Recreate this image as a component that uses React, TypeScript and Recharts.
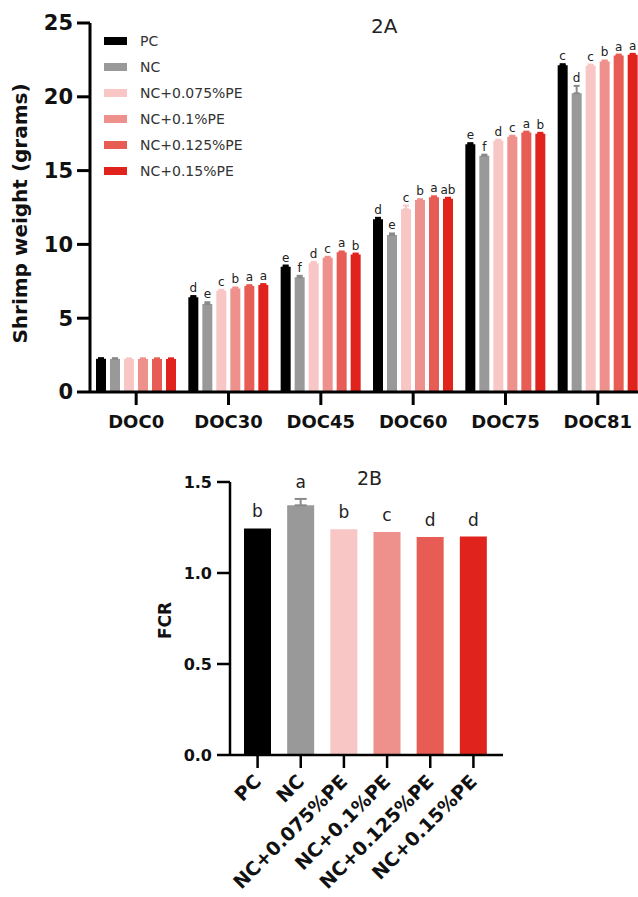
import React from "react";
import {
  BarChart,
  Bar,
  XAxis,
  YAxis,
  ErrorBar,
  LabelList,
  Legend,
  Cell,
} from "recharts";

const FONT = '"DejaVu Sans", Verdana, sans-serif';

// treatment groups shared by both panels
const GROUPS = ["PC", "NC", "NC+0.075%PE", "NC+0.1%PE", "NC+0.125%PE", "NC+0.15%PE"];
const GROUP_COLORS = ["#000000", "#999999", "#f7c6c5", "#ee918c", "#e75c54", "#e0241d"];

// 2A: shrimp weight by day of culture
const DAYS = ["DOC0", "DOC30", "DOC45", "DOC60", "DOC75", "DOC81"];

const weightPC = [2.25, 6.42, 8.49, 11.7, 16.78, 22.13];
const weightNC = [2.25, 5.96, 7.77, 10.64, 16.0, 20.24];
const weight075 = [2.24, 6.86, 8.72, 12.38, 17.03, 22.1];
const weight01 = [2.24, 7.02, 9.1, 13.0, 17.3, 22.4];
const weight0125 = [2.24, 7.18, 9.46, 13.2, 17.58, 22.8];
const weight015 = [2.24, 7.25, 9.32, 13.1, 17.5, 22.85];

const errPC = [0.04, 0.08, 0.08, 0.1, 0.08, 0.08];
const errNC = [0.04, 0.12, 0.1, 0.1, 0.08, 0.5];
const err075 = [0.04, 0.06, 0.1, 0.25, 0.06, 0.08];
const err01 = [0.04, 0.06, 0.06, 0.06, 0.06, 0.06];
const err0125 = [0.04, 0.06, 0.06, 0.06, 0.06, 0.06];
const err015 = [0.04, 0.06, 0.06, 0.06, 0.06, 0.06];

const lettersPC = ["", "d", "e", "d", "e", "c"];
const lettersNC = ["", "e", "f", "e", "f", "d"];
const letters075 = ["", "c", "d", "c", "d", "c"];
const letters01 = ["", "b", "c", "b", "c", "b"];
const letters0125 = ["", "a", "a", "a", "a", "a"];
const letters015 = ["", "a", "b", "ab", "b", "a"];

const WEIGHT_TICKS = [0, 5, 10, 15, 20, 25];

// 2B: feed conversion ratio
const fcrValues = [1.245, 1.372, 1.24, 1.225, 1.198, 1.2];
const fcrErr = [0, 0.035, 0, 0, 0, 0];
const fcrLetters = ["b", "a", "b", "c", "d", "d"];
const FCR_TICKS = [0, 0.5, 1.0, 1.5];

const weightSeries = [weightPC, weightNC, weight075, weight01, weight0125, weight015];
const errSeries = [errPC, errNC, err075, err01, err0125, err015];
const letterSeries = [lettersPC, lettersNC, letters075, letters01, letters0125, letters015];

const weightData = DAYS.map((day, i) => {
  const row: Record<string, any> = { day };
  GROUPS.forEach((_, s) => {
    row[`s${s}`] = weightSeries[s][i];
    row[`s${s}_err`] = [0, errSeries[s][i]];
    row[`s${s}_lbl`] = letterSeries[s][i];
  });
  return row;
});

const fcrData = GROUPS.map((name, i) => ({
  name,
  fcr: fcrValues[i],
  err: fcrErr[i] ? [0, fcrErr[i]] : null,
  lbl: fcrLetters[i],
}));

// chart geometry
const A_W = 660;
const A_H = 444;
const A_TOP = 23;
const A_XH = 52;
const A_PLOT_H = A_H - A_TOP - A_XH;

const B_W = 520;
const B_H = 455;
const B_TOP = 42;
const B_XH = 140;
const B_PLOT_H = B_H - B_TOP - B_XH;

const letterA = (s: number) => (props: any) => {
  const vb = props.viewBox || props;
  const { x, y, width } = vb;
  const value = props.value;
  if (!value || x == null) return null;
  const errPx = (errSeries[s][props.index] || 0) * (A_PLOT_H / 25);
  return (
    <text
      x={x + width / 2}
      y={y - errPx - 4}
      textAnchor="middle"
      fontFamily={FONT}
      fontSize={12}
      fill="#222"
    >
      {value}
    </text>
  );
};

const letterB = (props: any) => {
  const vb = props.viewBox || props;
  const { x, y, width } = vb;
  if (!props.value || x == null) return null;
  const errPx = (fcrErr[props.index] || 0) * (B_PLOT_H / 1.5);
  return (
    <text
      x={x + width / 2}
      y={y - errPx - 11}
      textAnchor="middle"
      fontFamily={FONT}
      fontSize={17}
      fill="#222"
    >
      {props.value}
    </text>
  );
};

const yTitle = (text: string, dx: number, dy: number, size: number, fallback: { y: number; h: number }) =>
  (props: any) => {
    const vb = props.viewBox || {};
    const cx = (vb.x ?? 0) + dx;
    const cy = (vb.y ?? fallback.y) + (vb.height ?? fallback.h) / 2 + dy;
    return (
      <text
        x={cx}
        y={cy}
        transform={`rotate(-90, ${cx}, ${cy})`}
        textAnchor="middle"
        dominantBaseline="central"
        fontFamily={FONT}
        fontWeight="bold"
        fontSize={size}
        fill="#111"
      >
        {text}
      </text>
    );
  };

// keep the legend in treatment order
const renderLegend = (props: any) => {
  const items = [...(props.payload || [])].sort(
    (a: any, b: any) => GROUPS.indexOf(a.value) - GROUPS.indexOf(b.value)
  );
  return (
    <div style={{ fontFamily: FONT, fontSize: 14, color: "#333" }}>
      {items.map((it: any) => (
        <div key={it.value} style={{ display: "flex", alignItems: "center", height: 26 }}>
          <span
            style={{ display: "inline-block", width: 23, height: 8, background: it.color, marginRight: 13 }}
          />
          <span>{it.value}</span>
        </div>
      ))}
    </div>
  );
};

const RotatedTick = (props: any) => {
  const { x, y, payload } = props;
  return (
    <text
      x={x}
      y={y}
      transform={`rotate(-45, ${x}, ${y})`}
      textAnchor="end"
      dy="0.35em"
      fontFamily={FONT}
      fontWeight="bold"
      fontSize={19}
      fill="#111"
    >
      {payload.value}
    </text>
  );
};

const titleStyle: React.CSSProperties = {
  position: "absolute",
  fontFamily: FONT,
  fontSize: 20,
  color: "#222",
  lineHeight: 1,
};

export default function App() {
  return (
    <div
      style={{
        position: "absolute",
        left: 0,
        top: 0,
        width: 638,
        height: 897,
        overflow: "hidden",
        background: "#fff",
      }}
    >
      <div style={{ position: "absolute", left: 0, top: 0 }}>
        <BarChart
          width={A_W}
          height={A_H}
          data={weightData}
          margin={{ top: A_TOP, right: 16, bottom: 0, left: 0 }}
          barSize={10}
          barGap={4}
        >
          <XAxis
            dataKey="day"
            height={A_XH}
            axisLine={{ stroke: "#000", strokeWidth: 3 }}
            tickLine={{ stroke: "#000", strokeWidth: 3 }}
            tickSize={13}
            tickMargin={10}
            tick={{ fontFamily: FONT, fontWeight: "bold", fontSize: 18, fill: "#111" }}
          />
          <YAxis
            width={90}
            domain={[0, 25]}
            ticks={WEIGHT_TICKS}
            interval={0}
            axisLine={{ stroke: "#000", strokeWidth: 3 }}
            tickLine={{ stroke: "#000", strokeWidth: 3 }}
            tickSize={13}
            tickMargin={4}
            tick={{ fontFamily: FONT, fontWeight: "bold", fontSize: 21, fill: "#111" }}
            label={{ content: yTitle("Shrimp weight (grams)", 20, 6, 20, { y: A_TOP, h: A_PLOT_H }) }}
          />
          <Legend
            layout="vertical"
            align="center"
            verticalAlign="middle"
            wrapperStyle={{ left: 104, top: 28, width: 220 }}
            content={renderLegend}
          />
          {GROUPS.map((g, s) => (
            <Bar
              key={g}
              dataKey={`s${s}`}
              name={g}
              fill={GROUP_COLORS[s]}
              isAnimationActive={false}
            >
              <ErrorBar
                dataKey={`s${s}_err`}
                width={3}
                strokeWidth={2}
                stroke={s === 1 ? "#8a8a8a" : GROUP_COLORS[s]}
              />
              <LabelList dataKey={`s${s}_lbl`} content={letterA(s)} />
            </Bar>
          ))}
        </BarChart>
        <div style={{ ...titleStyle, left: 371, top: 16 }}>2A</div>
      </div>

      <div style={{ position: "absolute", left: 0, top: 440 }}>
        <BarChart
          width={B_W}
          height={B_H}
          data={fcrData}
          margin={{ top: B_TOP, right: 17, bottom: 0, left: 0 }}
          barSize={27}
        >
          <XAxis
            dataKey="name"
            height={B_XH}
            interval={0}
            padding={{ left: 6, right: 8 }}
            axisLine={{ stroke: "#000", strokeWidth: 2.5 }}
            tickLine={{ stroke: "#000", strokeWidth: 2.5 }}
            tickSize={13}
            tickMargin={10}
            tick={<RotatedTick />}
          />
          <YAxis
            width={230}
            domain={[0, 1.5]}
            ticks={FCR_TICKS}
            interval={0}
            tickFormatter={(v: number) => v.toFixed(1)}
            axisLine={{ stroke: "#000", strokeWidth: 2.5 }}
            tickLine={{ stroke: "#000", strokeWidth: 2.5 }}
            tickSize={13}
            tickMargin={5}
            tick={{ fontFamily: FONT, fontWeight: "bold", fontSize: 16, fill: "#111" }}
            label={{ content: yTitle("FCR", 165, 2, 17, { y: B_TOP, h: B_PLOT_H }) }}
          />
          <Bar dataKey="fcr" isAnimationActive={false}>
            {fcrData.map((d, i) => (
              <Cell key={d.name} fill={GROUP_COLORS[i]} />
            ))}
            <ErrorBar dataKey="err" width={6} strokeWidth={2} stroke="#8a8a8a" />
            <LabelList dataKey="lbl" content={letterB} />
          </Bar>
        </BarChart>
        <div style={{ ...titleStyle, left: 357, top: 29, fontSize: 19 }}>2B</div>
      </div>
    </div>
  );
}
